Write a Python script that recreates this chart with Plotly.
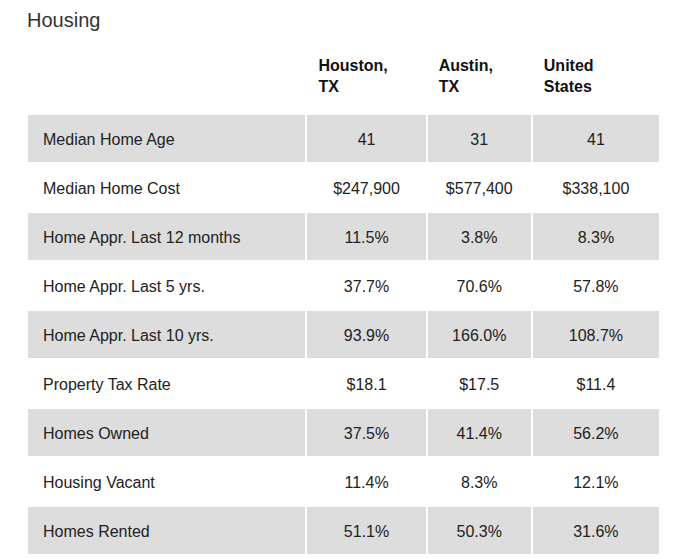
import plotly.graph_objects as go

# table contents
metrics = ["Median Home Age", "Median Home Cost", "Home Appr. Last 12 months",
           "Home Appr. Last 5 yrs.", "Home Appr. Last 10 yrs.", "Property Tax Rate",
           "Homes Owned", "Housing Vacant", "Homes Rented"]
houston = ["41", "$247,900", "11.5%", "37.7%", "93.9%", "$18.1", "37.5%", "11.4%", "51.1%"]
austin = ["31", "$577,400", "3.8%", "70.6%", "166.0%", "$17.5", "41.4%", "8.3%", "50.3%"]
united_states = ["41", "$338,100", "8.3%", "57.8%", "108.7%", "$11.4", "56.2%", "12.1%", "31.6%"]
headers = ["", "Houston,<br>TX", "Austin,<br>TX", "United<br>States"]

GREY = "#dddddd"
FONT = "Liberation Sans"
CLEAR = "rgba(0,0,0,0)"
row_fill = [GREY if i % 2 == 0 else "white" for i in range(len(metrics))]
col_w = [279, 120, 105, 128]
blank = [""] * len(metrics)

# bold header lines, nudged right a little
head_txt = ["<b>%s</b>" % "<br>".join("\u2005" + p for p in h.split("<br>")) if h else ""
            for h in headers]

# first table: header text + row fills
fig = go.Figure(go.Table(
    columnwidth=col_w,
    header=dict(values=head_txt, fill_color="white", line_color="white", line_width=2,
                align="left", height=65,
                font=dict(family=FONT, size=16, color="#111")),
    cells=dict(values=[blank] * 4, fill_color=[row_fill] * 4,
               line_color="white", line_width=2, height=49,
               font=dict(family=FONT, size=16, color="#222")),
))

# second table on top: the cell text, pushed down to sit in the middle of each row
fig.add_trace(go.Table(
    columnwidth=col_w,
    header=dict(values=[""] * 4, fill_color=CLEAR, line_color=CLEAR, height=76,
                font=dict(family=FONT, size=16)),
    cells=dict(values=[["\u2002" + m for m in metrics], houston, austin, united_states],
               fill_color=CLEAR, line_color=CLEAR,
               align=["left", "center", "center", "center"], height=49,
               font=dict(family=FONT, size=16, color="#222")),
))

fig.update_layout(
    width=685, height=559,
    margin=dict(l=19, r=33, t=41, b=0),
    paper_bgcolor="white",
    title=dict(text="Housing", x=19 / 685, xanchor="left", y=1 - 12 / 559, yanchor="middle",
               font=dict(family=FONT, size=20, color="#333")),
)

fig.write_html("out.html")
